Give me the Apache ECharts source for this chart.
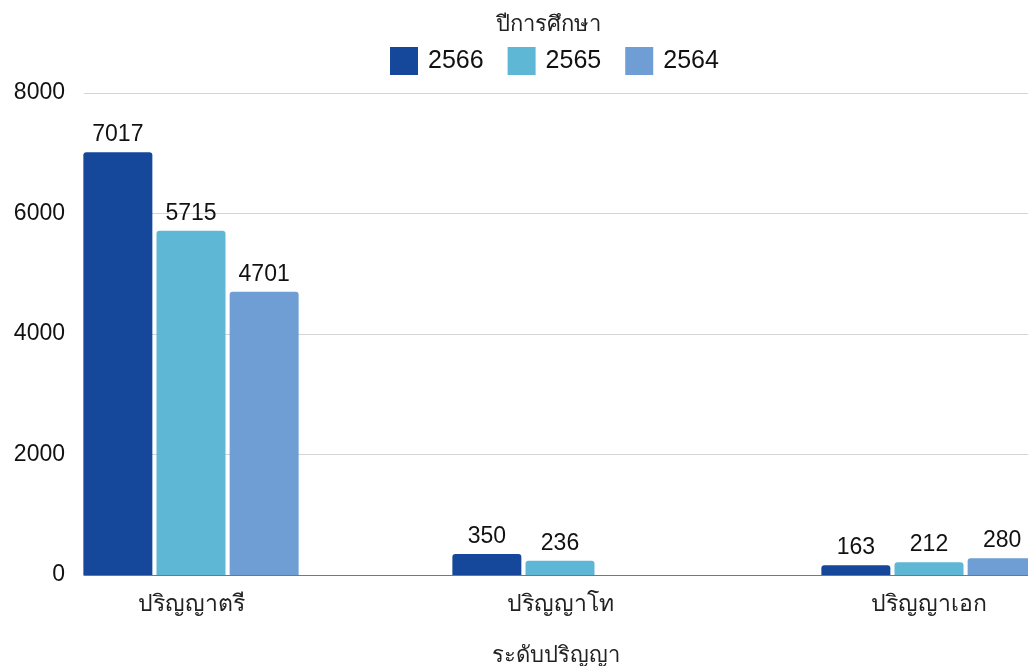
<!DOCTYPE html>
<html><head><meta charset="utf-8">
<script src="https://cdn.jsdelivr.net/npm/echarts@6/dist/echarts.min.js"></script>
<style>html,body{margin:0;padding:0;background:#fff}#c{width:1028px;height:666px}</style>
</head><body><div id="c"></div>
<script>
const categories = ['ปริญญาตรี', 'ปริญญาโท', 'ปริญญาเอก'];
const seriesNames = ['2566', '2565', '2564'];
const values2566 = [7017, 350, 163];
const values2565 = [5715, 236, 212];
const values2564 = [4701, null, 280];
const colors = ['#15489A', '#5DB7D5', '#6E9ED3'];
const yTicks = { min: 0, max: 8000, interval: 2000 };
const legendTitle = 'ปีการศึกษา';
const xName = 'ระดับปริญญา';

const font = '"Liberation Sans", Arial, "Noto Sans", sans-serif';
const chart = echarts.init(document.getElementById('c'), null, { renderer: 'canvas' });
const data = [values2566, values2565, values2564];
chart.setOption({
  backgroundColor: '#fff',
  animation: false,
  textStyle: { fontFamily: font },
  title: { text: legendTitle, left: 491, top: 9, textStyle: { fontSize: 22, fontWeight: 'normal', color: '#222', fontFamily: font } },
  legend: {
    top: 42, left: 385, itemWidth: 28, itemHeight: 28, itemGap: 24,
    icon: 'rect',
    textStyle: { fontSize: 25, color: '#111', fontFamily: font, padding: [0, 0, 0, 5] },
    data: seriesNames
  },
  grid: [
    { left: 84, right: 0, top: 93, bottom: 91, containLabel: false, outerBoundsMode: 'none' },
    { left: 6.5, width: 1107, top: 93, bottom: 91, containLabel: false, outerBoundsMode: 'none' }
  ],
  xAxis: [
    { type: 'category', gridIndex: 0, data: categories,
      axisLine: { show: true, lineStyle: { color: '#777', width: 1.2 } },
      axisTick: { show: false }, axisLabel: { show: false },
      name: xName, nameLocation: 'middle', nameGap: 70,
      nameTextStyle: { fontSize: 22, color: '#222', fontFamily: font } },
    { type: 'category', gridIndex: 1, data: categories,
      axisLine: { show: false }, axisTick: { show: false },
      axisLabel: { fontSize: 23, color: '#222', margin: 18, fontFamily: font } }
  ],
  yAxis: [
    { type: 'value', gridIndex: 0, min: yTicks.min, max: yTicks.max, interval: yTicks.interval,
      axisLine: { show: false }, axisTick: { show: false },
      axisLabel: { fontSize: 23, color: '#111', margin: 19, fontFamily: font, formatter: v => String(v) },
      splitLine: { lineStyle: { color: '#d4d4d4', width: 1.2 } } },
    { type: 'value', gridIndex: 1, min: yTicks.min, max: yTicks.max, interval: yTicks.interval,
      show: false, splitLine: { show: false } }
  ],
  series: seriesNames.map((n, i) => ({
    name: n, type: 'bar', xAxisIndex: 1, yAxisIndex: 1,
    data: data[i], barWidth: 69, barGap: '6%',
    itemStyle: { color: colors[i], borderRadius: [3, 3, 0, 0] },
    label: { show: true, position: 'top', distance: 6, fontSize: 23, color: '#111', fontFamily: font }
  }))
});
</script></body></html>
